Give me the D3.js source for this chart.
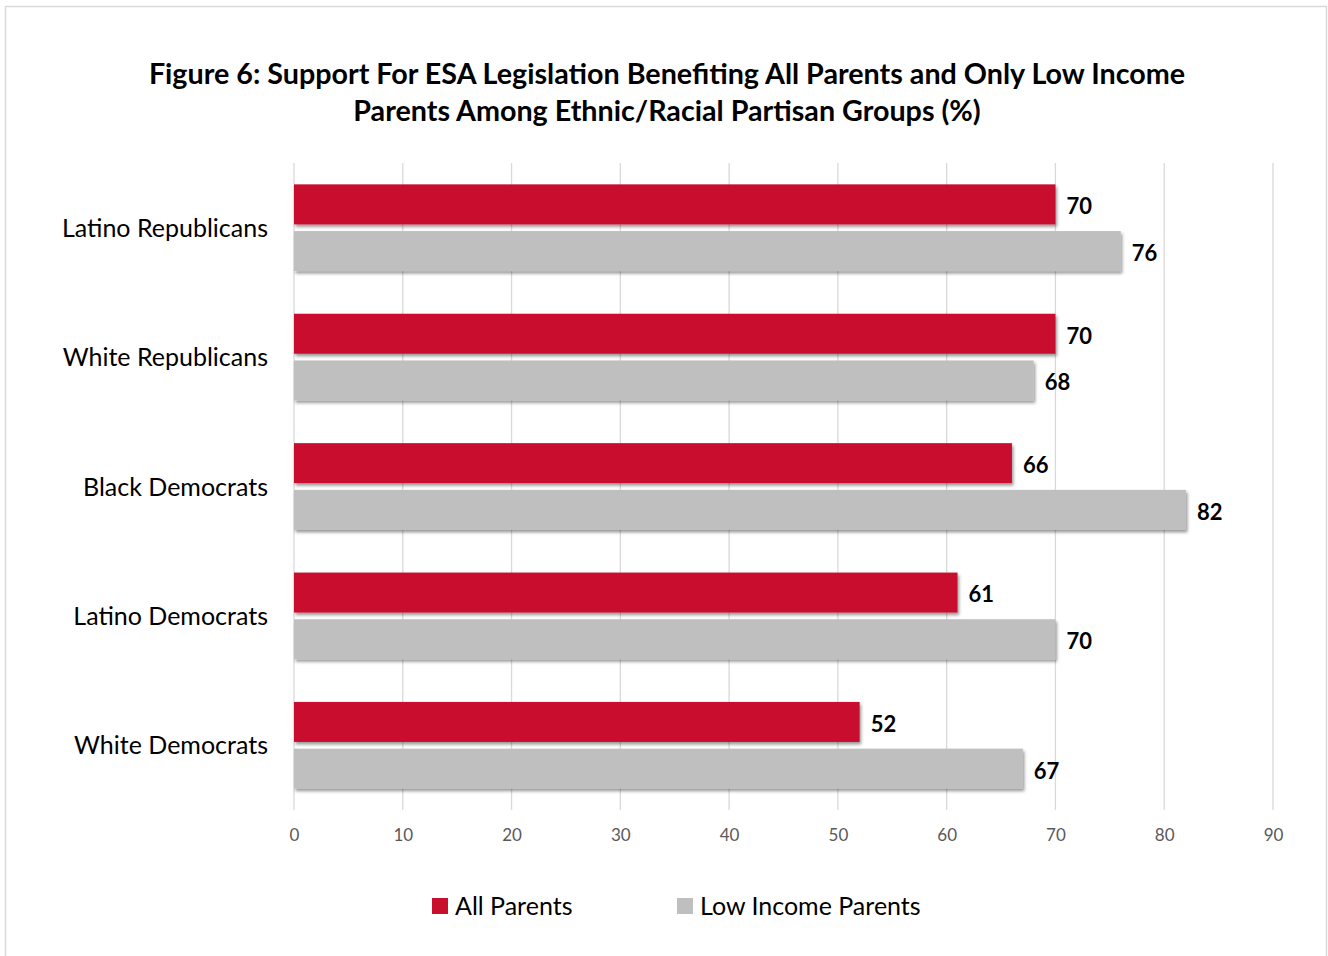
<!DOCTYPE html>
<html>
<head>
<meta charset="utf-8">
<script src="https://cdn.jsdelivr.net/npm/d3@7"></script>
<style>
  html, body { margin: 0; padding: 0; background: #fff; }
  svg { display: block; }
  text { font-family: Lato, "Open Sans", sans-serif; }
</style>
</head>
<body>
<svg id="chart" width="1328" height="956"></svg>
<script>
// Survey results (%)
const categories = ["Latino Republicans", "White Republicans", "Black Democrats", "Latino Democrats", "White Democrats"];
const seriesNames = ["All Parents", "Low Income Parents"];
const allParents = [70, 70, 66, 61, 52];
const lowIncomeParents = [76, 68, 82, 70, 67];
const xTicks = [0, 10, 20, 30, 40, 50, 60, 70, 80, 90];
const titleLines = [
  "Figure 6: Support For ESA Legislation Benefiting All Parents and Only Low Income",
  "Parents Among Ethnic/Racial Partisan Groups (%)"
];

const colors = { "All Parents": "#C8102E", "Low Income Parents": "#BFBFBF" };

const svg = d3.select("#chart");

// drop shadow used by the bars
const defs = svg.append("defs");
const f = defs.append("filter").attr("id", "shadow")
  .attr("x", "-5%").attr("y", "-20%").attr("width", "110%").attr("height", "150%");
f.append("feDropShadow").attr("dx", 1.5).attr("dy", 2.5).attr("stdDeviation", 1.6)
  .attr("flood-color", "#000").attr("flood-opacity", 0.4);

// outer frame
svg.append("rect").attr("x", 5.5).attr("y", 6.5).attr("width", 1321).attr("height", 960)
  .attr("fill", "#fff").attr("stroke", "#d9d9d9").attr("stroke-width", 1.5);

// title
svg.append("g").selectAll("text").data(titleLines).join("text")
  .attr("x", 667).attr("y", (d, i) => 84 + i * 37)
  .attr("text-anchor", "middle")
  .attr("font-size", 28.7).attr("font-weight", 700).attr("fill", "#000")
  .text(d => d);

const plot = { left: 294, right: 1273, top: 163, bottom: 810 };

const x = d3.scaleLinear().domain([0, 90]).range([plot.left, plot.right]);
const y0 = d3.scaleBand().domain(categories).range([plot.top, plot.bottom])
  .paddingInner(0.33).paddingOuter(0.165);
const y1 = d3.scaleBand().domain(seriesNames).range([0, y0.bandwidth()]).paddingInner(0.1435);

// vertical gridlines
svg.append("g").selectAll("line").data(xTicks).join("line")
  .attr("x1", d => x(d)).attr("x2", d => x(d))
  .attr("y1", plot.top).attr("y2", plot.bottom)
  .attr("stroke", "#d9d9d9").attr("stroke-width", 1.3);

// x axis labels
const xAxis = d3.axisBottom(x).tickValues(xTicks).tickSize(0).tickPadding(0);
const gx = svg.append("g").attr("transform", `translate(0,${plot.bottom})`).call(xAxis);
gx.select(".domain").remove();
gx.selectAll("text").attr("font-size", 17).attr("fill", "#595959")
  .attr("dy", null).attr("y", 31).attr("font-family", "Lato, sans-serif");

// category labels
const yAxis = d3.axisLeft(y0).tickSize(0).tickPadding(26);
const gy = svg.append("g").attr("transform", `translate(${plot.left},0)`).call(yAxis);
gy.select(".domain").remove();
gy.selectAll("text").attr("font-size", 25).attr("fill", "#000")
  .attr("dy", "0.36em").attr("font-family", "Lato, sans-serif");

// bars
const rows = categories.map((c, i) => ({
  category: c,
  values: [
    { series: "All Parents", value: allParents[i] },
    { series: "Low Income Parents", value: lowIncomeParents[i] }
  ]
}));

const groups = svg.append("g").selectAll("g").data(rows).join("g")
  .attr("transform", d => `translate(0,${y0(d.category)})`);

groups.selectAll("rect").data(d => d.values).join("rect")
  .attr("x", x(0)).attr("y", d => y1(d.series))
  .attr("width", d => x(d.value) - x(0)).attr("height", y1.bandwidth())
  .attr("fill", d => colors[d.series])
  .attr("filter", "url(#shadow)");

groups.selectAll("text").data(d => d.values).join("text")
  .attr("x", d => x(d.value) + 11)
  .attr("y", d => y1(d.series) + y1.bandwidth() / 2 + 2)
  .attr("dy", "0.36em")
  .attr("font-size", 22).attr("font-weight", 700).attr("fill", "#000")
  .text(d => d.value);

// legend
const legendX = [432, 677];
const legend = svg.append("g").selectAll("g").data(seriesNames).join("g")
  .attr("transform", (d, i) => `translate(${legendX[i]},898)`);
legend.append("rect").attr("width", 16).attr("height", 16).attr("fill", d => colors[d]);
legend.append("text").attr("x", 23).attr("y", 8).attr("dy", "0.36em")
  .attr("font-size", 25).attr("fill", "#000").text(d => d);
</script>
</body>
</html>
